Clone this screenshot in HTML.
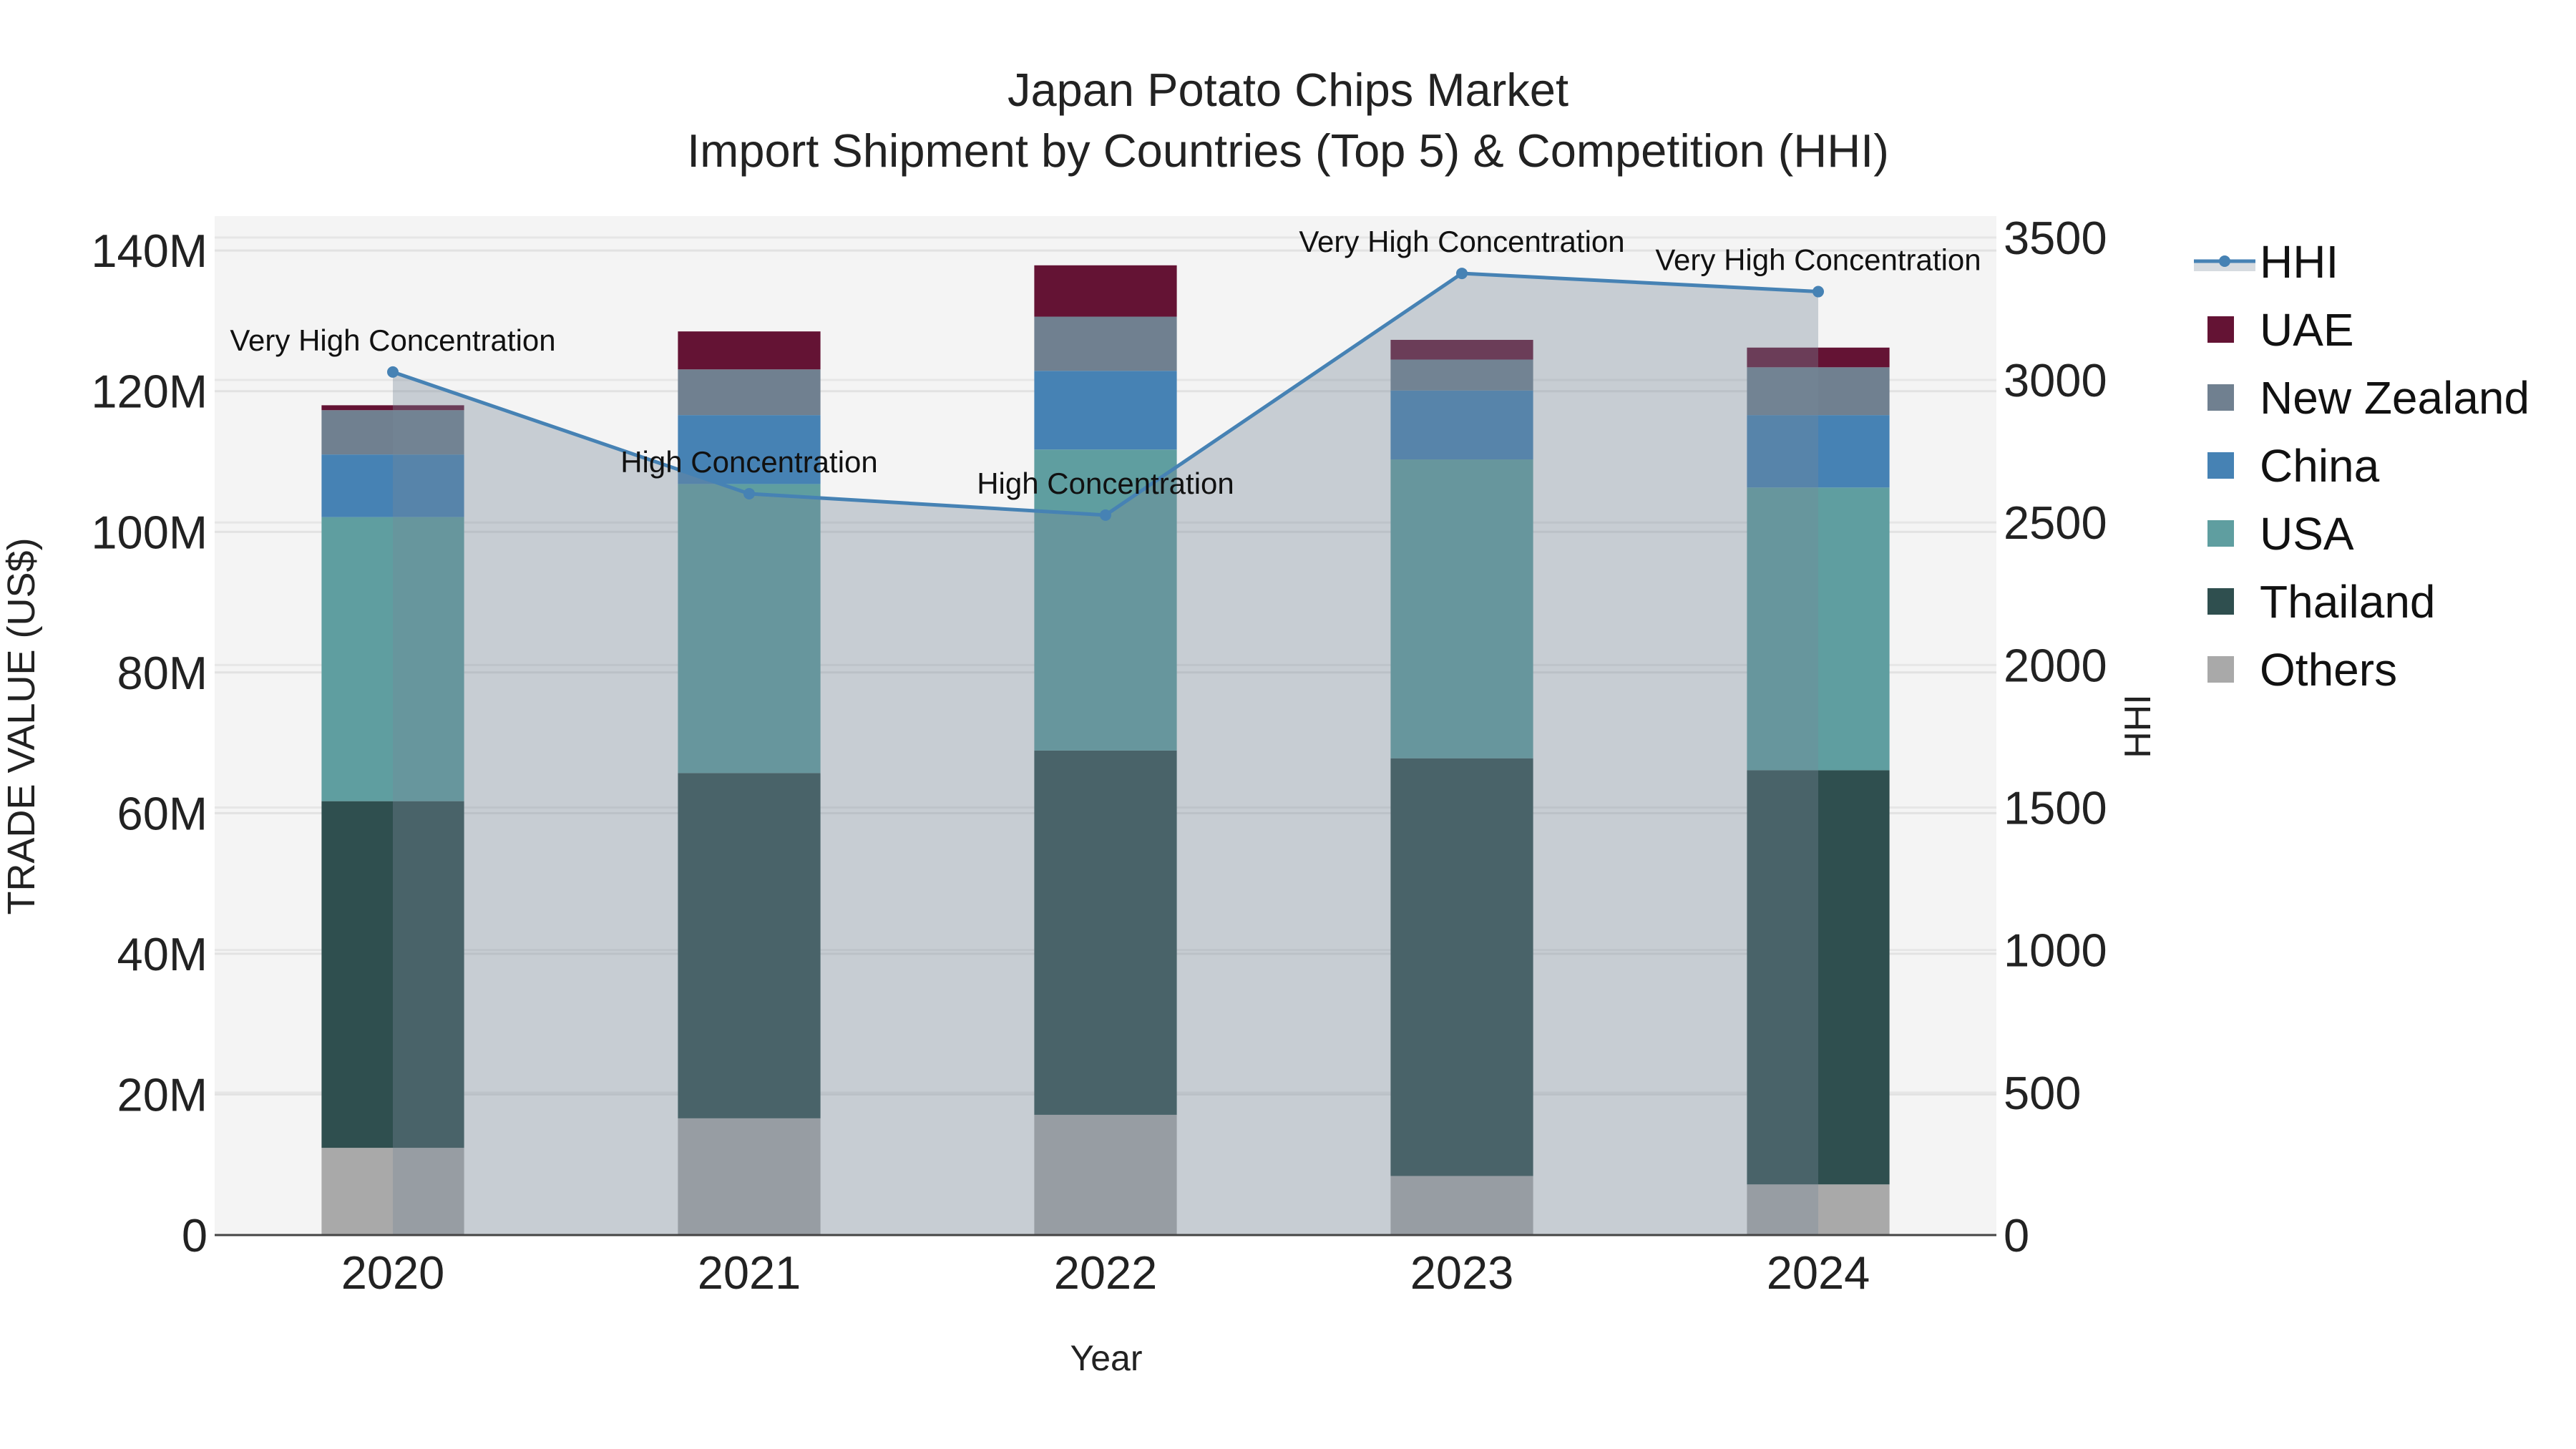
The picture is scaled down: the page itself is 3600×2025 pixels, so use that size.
<!DOCTYPE html>
<html><head><meta charset="utf-8"><style>
html,body{margin:0;padding:0;background:#fff;}
svg{display:block;font-family:"Liberation Sans",sans-serif;}
</style></head><body>
<svg id="chart" width="3600" height="2025" viewBox="0 0 3600 2025" xmlns="http://www.w3.org/2000/svg">
<rect x="300" y="302" width="2490" height="1424" fill="#f4f4f4"/>
<g id="grid"></g><g id="bars"></g><g id="hhi"></g><g id="axes"></g>
<text x="1800" y="148" font-size="65" text-anchor="middle" fill="#222">Japan Potato Chips Market</text>
<text x="1800" y="233" font-size="65" text-anchor="middle" fill="#222">Import Shipment by Countries (Top 5) &amp; Competition (HHI)</text>
<text x="1546" y="1915" font-size="50" text-anchor="middle" fill="#222">Year</text>
<text transform="translate(48,1015) rotate(-90)" font-size="54" text-anchor="middle" fill="#222">TRADE VALUE (US$)</text>
<text transform="translate(3005,1015) rotate(-90)" font-size="52" text-anchor="middle" fill="#222">HHI</text>
<g id="legend"></g>
</svg>
<script>
const years = ["2020","2021","2022","2023","2024"];
const seriesNames = ["Others","Thailand","USA","China","New Zealand","UAE"];
const seriesColors = ["#a9a9a9","#2f4f4f","#5f9ea0","#4682b4","#708090","#641334"];
const others = [12.4,16.6,17.1,8.4,7.2];
const thailand = [49.3,49.1,51.8,59.4,58.9];
const usa = [40.4,41.1,42.8,42.5,40.2];
const china = [8.9,9.8,11.2,9.8,10.3];
const newZealand = [6.3,6.5,7.7,4.4,6.8];
const uae = [0.7,5.4,7.3,2.8,2.8];
const hhi = [3028,2601,2526,3374,3310];
const hhiLabels = ["Very High Concentration","High Concentration","High Concentration","Very High Concentration","Very High Concentration"];
const yTicks = [0,20,40,60,80,100,120,140];
const y2Ticks = [0,500,1000,1500,2000,2500,3000,3500];

const NS="http://www.w3.org/2000/svg";
const L=300,R=2790,T=302,B=1726;
const yMax=144.9, y2Max=3575;
const xs=i=>L+(i+0.5)*(R-L)/years.length;
const ys=v=>B-v/yMax*(B-T);
const y2s=v=>B-v/y2Max*(B-T);
function mk(tag,attrs,parent){const e=document.createElementNS(NS,tag);for(const k in attrs)e.setAttribute(k,attrs[k]);parent.appendChild(e);return e;}
const grid=document.getElementById('grid'),axes=document.getElementById('axes'),bars=document.getElementById('bars'),hg=document.getElementById('hhi'),leg=document.getElementById('legend');
yTicks.forEach(t=>{
  const g=mk('line',{x1:L,x2:R,y1:ys(t),y2:ys(t),stroke:'#e2e2e2','stroke-width':3},grid);
  
  
  const tx=mk('text',{x:L-10,y:ys(t)+23,'font-size':65,'text-anchor':'end',fill:'#222'},axes);
  tx.textContent=t===0?'0':t+'M';
  
  
});
y2Ticks.forEach(t=>{
  const g=mk('line',{x1:L,x2:R,y1:y2s(t),y2:y2s(t),stroke:'#e6e6e6','stroke-width':3},grid);
  
  
  const tx=mk('text',{x:R+10,y:y2s(t)+23,'font-size':65,fill:'#222'},axes);
  tx.textContent=t;
  
  
});
const series=[others,thailand,usa,china,newZealand,uae];
const bw=(R-L)/years.length*0.4;
years.forEach((yr,i)=>{
  let base=0;
  series.forEach((s,k)=>{
    const r=mk('rect',{x:xs(i)-bw/2,y:ys(base+s[i]),width:bw,height:ys(base)-ys(base+s[i]),fill:seriesColors[k]},bars);
    
    
    base+=s[i];
  });
  const tx=mk('text',{x:xs(i),y:B+75,'font-size':65,'text-anchor':'middle',fill:'#222'},axes);
  tx.textContent=yr;
  
  
});
const zl=mk('line',{x1:L,x2:R,y1:B,y2:B,stroke:'#444','stroke-width':3},axes);


let pts=hhi.map((v,i)=>xs(i)+','+y2s(v)).join(' ');
const area=mk('polygon',{points:xs(0)+','+B+' '+pts+' '+xs(hhi.length-1)+','+B,fill:'rgba(119,136,153,0.36)'},hg);


const line=mk('polyline',{points:pts,fill:'none',stroke:'#4682b4','stroke-width':5},hg);


hhi.forEach((v,i)=>{
  const c=mk('circle',{cx:xs(i),cy:y2s(v),r:8,fill:'#4682b4'},hg);
  
  
  const a=mk('text',{x:xs(i),y:y2s(v)-30,'font-size':42,'text-anchor':'middle',fill:'#111'},hg);
  a.textContent=hhiLabels[i];
  
  
});
const ly0=365, ls=95;
mk('rect',{x:3066,y:367,width:86,height:12,fill:'rgba(119,136,153,0.3)'},leg);
mk('line',{x1:3066,x2:3152,y1:365,y2:365,stroke:'#4682b4','stroke-width':5},leg);
mk('circle',{cx:3109,cy:365,r:8,fill:'#4682b4'},leg);
const t0=mk('text',{x:3158,y:ly0+23,'font-size':64,fill:'#111'},leg);
t0.textContent='HHI';


const order=[5,4,3,2,1,0];
order.forEach((k,j)=>{
  const y=ly0+ls*(j+1);
  const sw=mk('rect',{x:3085,y:y-18,width:37,height:37,fill:seriesColors[k]},leg);
  
  
  const t=mk('text',{x:3158,y:y+23,'font-size':64,fill:'#111'},leg);
  t.textContent=seriesNames[k];
  
  
});
</script>
</body></html>
